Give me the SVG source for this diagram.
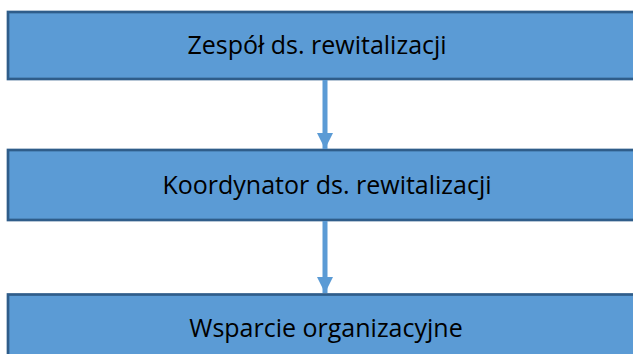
<svg xmlns="http://www.w3.org/2000/svg" width="633" height="354" viewBox="0 0 633 354">
<style>
.box{fill:#5B9BD5;stroke:#2F5D8A;stroke-width:2.7}
.lbl{font-family:"Open Sans","Noto Sans","Liberation Sans",sans-serif;font-size:25px;fill:#000;text-anchor:middle}
.conn{stroke:#5B9BD5;stroke-width:5;fill:none}
</style>
<defs>
<marker id="ah" markerUnits="userSpaceOnUse" markerWidth="16" markerHeight="16" refX="16" refY="8" orient="auto">
<path d="M0,0 L16,8 L0,16 Z" fill="#5B9BD5"/>
</marker>
</defs>
<rect width="633" height="354" fill="#fff"/>
<g id="node1">
<rect class="box" x="8" y="12" width="640" height="67"/>
<text class="lbl" x="317" y="54">Zespół ds. rewitalizacji</text>
</g>
<g id="node2">
<rect class="box" x="8" y="150" width="640" height="70"/>
<text class="lbl" x="327" y="194">Koordynator ds. rewitalizacji</text>
</g>
<g id="node3">
<rect class="box" x="8" y="294.5" width="640" height="80"/>
<text class="lbl" x="326" y="337">Wsparcie organizacyjne</text>
</g>
<g id="connectors">
<line class="conn" x1="325" y1="80" x2="325" y2="149" marker-end="url(#ah)"/>
<line class="conn" x1="325" y1="221" x2="325" y2="293" marker-end="url(#ah)"/>
</g>
</svg>
